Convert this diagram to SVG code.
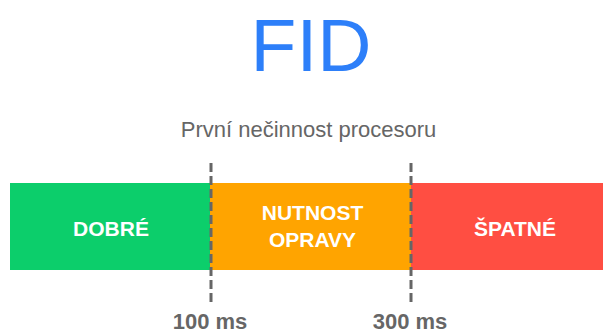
<svg xmlns="http://www.w3.org/2000/svg" width="603" height="333" viewBox="0 0 603 333">
<style>
.t{font-family:"Liberation Sans",Arial,sans-serif}
.lbl{font-family:"Liberation Sans",Arial,sans-serif;font-weight:bold;font-size:21px;fill:#fff;text-anchor:middle}
.ms{font-family:"Liberation Sans",Arial,sans-serif;font-weight:bold;font-size:22px;fill:#666;text-anchor:middle}
.dash{stroke:#666;stroke-width:3;stroke-dasharray:9 4;fill:none}
</style>
<rect width="603" height="333" fill="#fff"/>
<text class="t" x="311" y="71" font-size="75" fill="#2d7ff9" text-anchor="middle">FID</text>
<text class="t" x="308.5" y="137" font-size="22" fill="#666" text-anchor="middle">První nečinnost procesoru</text>
<g id="good">
<rect x="10" y="183" width="200" height="87" fill="#0cce6b"/>
<text class="lbl" x="111" y="236">DOBRÉ</text>
</g>
<g id="needs">
<rect x="210" y="183" width="201" height="87" fill="#ffa400"/>
<text class="lbl" x="312.5" y="220">NUTNOST</text>
<text class="lbl" x="312.5" y="247">OPRAVY</text>
</g>
<g id="poor">
<rect x="411" y="183" width="192" height="87" fill="#ff4e42"/>
<text class="lbl" x="515" y="236">ŠPATNÉ</text>
</g>
<g id="connectors">
<line class="dash" x1="211" y1="163" x2="211" y2="302"/>
<line class="dash" x1="411" y1="163" x2="411" y2="302"/>
</g>
<g id="t100"><text class="ms" x="210" y="329">100 ms</text></g>
<g id="t300"><text class="ms" x="410" y="329">300 ms</text></g>
</svg>
